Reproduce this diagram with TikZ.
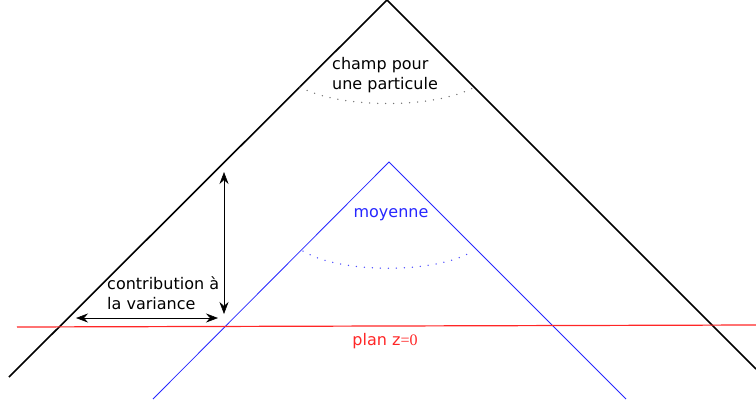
\documentclass[tikz,border=0pt]{standalone}
\usepackage{fontspec}
\setmainfont{DejaVu Sans}
\newfontfamily\serifpart{Liberation Serif}
\usetikzlibrary{arrows.meta}
\tikzset{
  cone/.style={line width=1.6pt, black},
  meancone/.style={line width=0.8pt, blue!85!white},
  plane/.style={line width=1.2pt, red!85!white},
  arc/.style={line width=1.5pt, line cap=round, dash pattern=on 0pt off 8pt},
  dim/.style={line width=0.6pt, {Stealth[length=12pt,width=9pt,inset=4pt]}-{Stealth[length=12pt,width=9pt,inset=4pt]}},
  lbl/.style={font=\fontsize{16}{20}\selectfont, align=left, inner sep=0pt}
}
\begin{document}
\begin{tikzpicture}[x=1pt,y=-1pt]
\useasboundingbox (0,0) rectangle (756,405);
% black cone
\coordinate (A) at (387,0);
\coordinate (AL) at (9,377);
\coordinate (AR) at (756,369);
\draw[cone] (AL) -- (A) -- (AR);
% blue cone
\coordinate (B) at (389,162);
\coordinate (BL) at (153,399);
\coordinate (BR) at (626,399);
\draw[meancone] (BL) -- (B) -- (BR);
% red plane
\coordinate (PL) at (17,327);
\coordinate (PR) at (756,325);
\draw[plane] (PL) -- (PR);
% dotted arcs
\coordinate (a1) at (300,87);
\coordinate (a2) at (475,87);
\draw[arc, black!55] (a1) .. controls (340,109) and (435,109) .. (a2);
\coordinate (b1) at (303,251);
\coordinate (b2) at (473,251);
\draw[arc, blue!70!white] (b1) .. controls (340,274) and (436,274) .. (b2);
% arrows
\coordinate (v1) at (224,172);
\coordinate (v2) at (224,314);
\draw[dim] (v1) -- (v2);
\coordinate (h1) at (76,318);
\coordinate (h2) at (218,318);
\draw[dim] (h1) -- (h2);
% labels
\node[lbl, anchor=north west] (champ) at (332,57) {champ pour\\une particule};
\node[lbl, anchor=center, text=blue!85!white] (moy) at (391,215) {moyenne};
\node[lbl, anchor=north west] (contrib) at (107,276) {contribution à\\la variance};
\node[lbl, anchor=center, text=red!85!white] (plan) at (385,341) {plan z{\serifpart=0}};
\end{tikzpicture}
\end{document}
